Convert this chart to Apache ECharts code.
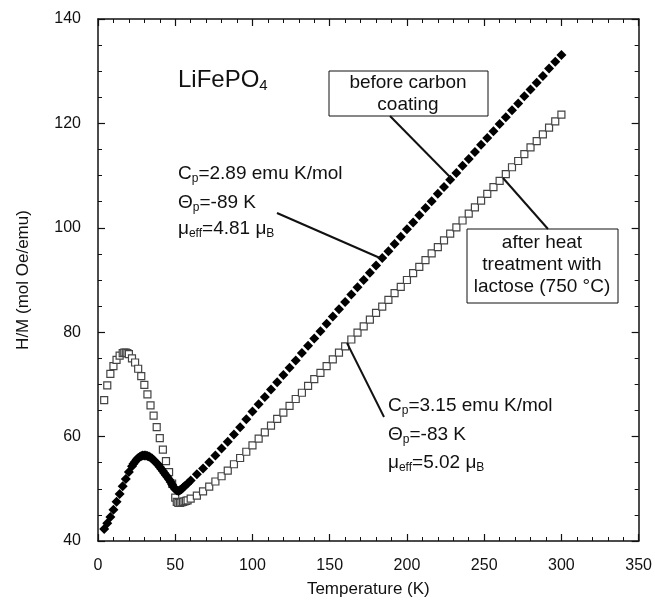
<!DOCTYPE html>
<html>
<head>
<meta charset="utf-8">
<script src="https://cdn.jsdelivr.net/npm/echarts@6/dist/echarts.min.js"></script>
<style>
  html, body { margin: 0; padding: 0; background: #fff; }
  #chart { width: 655px; height: 606px; }
</style>
</head>
<body>
<div id="chart"></div>
<script>
// before carbon coating (filled diamonds)
var beforeT = [4, 6, 8, 10, 12, 14, 16, 18, 20, 22, 23, 24, 25, 26, 27, 28, 29, 30, 31, 32,
  33, 34, 35, 36, 37, 38, 39, 40, 41, 42, 43, 44, 45, 46, 47, 48, 49, 50, 51, 52,
  53, 54, 55, 56, 58, 60, 64, 68, 72, 76, 80, 84, 88, 92, 96, 100, 104, 108, 112, 116,
  120, 124, 128, 132, 136, 140, 144, 148, 152, 156, 160, 164, 168, 172, 176, 180, 184, 188, 192, 196,
  200, 204, 208, 212, 216, 220, 224, 228, 232, 236, 240, 244, 248, 252, 256, 260, 264, 268, 272, 276,
  280, 284, 288, 292, 296, 300]
var beforeHM = [42.3, 43.4, 44.6, 46.0, 47.5, 49.0, 50.5, 51.9, 53.2, 54.3, 54.8, 55.2, 55.6, 55.9, 56.1, 56.3, 56.4, 56.4, 56.4, 56.3,
  56.2, 56.0, 55.8, 55.5, 55.2, 54.9, 54.6, 54.2, 53.8, 53.4, 53.0, 52.6, 52.2, 51.8, 51.3, 50.8, 50.3, 49.9, 49.7, 49.6,
  49.7, 49.9, 50.2, 50.5, 51.0, 51.6, 52.8, 53.9, 55.1, 56.4, 57.7, 59.0, 60.4, 61.8, 63.3, 64.8, 66.2, 67.6, 69.0, 70.4,
  71.8, 73.2, 74.6, 76.0, 77.4, 78.8, 80.2, 81.6, 83.0, 84.4, 85.8, 87.2, 88.6, 90.0, 91.4, 92.8, 94.2, 95.5, 96.9, 98.3,
  99.7, 101.0, 102.4, 103.8, 105.1, 106.5, 107.8, 109.2, 110.5, 111.9, 113.2, 114.5, 115.9, 117.2, 118.5, 119.9, 121.2, 122.5, 123.8, 125.2,
  126.5, 127.8, 129.1, 130.5, 131.8, 133.1]

// after heat treatment with lactose (open squares)
var afterT = [4, 6, 8, 10, 12, 14, 16, 17, 18, 19, 20, 22, 24, 26, 28, 30, 32, 34, 36, 38,
  40, 42, 44, 46, 48, 50, 51, 52, 53, 54, 55, 56, 57, 58, 60, 64, 68, 72, 76, 80,
  84, 88, 92, 96, 100, 104, 108, 112, 116, 120, 124, 128, 132, 136, 140, 144, 148, 152, 156, 160,
  164, 168, 172, 176, 180, 184, 188, 192, 196, 200, 204, 208, 212, 216, 220, 224, 228, 232, 236, 240,
  244, 248, 252, 256, 260, 264, 268, 272, 276, 280, 284, 288, 292, 296, 300]
var afterHM = [67.0, 69.8, 72.0, 73.5, 74.7, 75.5, 76.0, 76.1, 76.1, 76.0, 75.8, 75.0, 74.2, 73.0, 71.6, 69.9, 68.1, 66.0, 64.0, 61.8,
  59.7, 57.5, 55.3, 53.2, 51.0, 48.3, 47.5, 47.3, 47.3, 47.4, 47.5, 47.6, 47.7, 47.8, 48.1, 48.7, 49.5, 50.4, 51.4, 52.4,
  53.5, 54.7, 55.9, 57.1, 58.3, 59.6, 60.8, 62.1, 63.4, 64.6, 65.9, 67.2, 68.4, 69.7, 71.0, 72.2, 73.5, 74.8, 76.1, 77.3,
  78.6, 79.9, 81.1, 82.4, 83.7, 84.9, 86.2, 87.5, 88.7, 90.0, 91.3, 92.5, 93.8, 95.1, 96.3, 97.6, 98.9, 100.1, 101.4, 102.7,
  103.9, 105.2, 106.5, 107.8, 109.0, 110.3, 111.6, 112.8, 114.1, 115.4, 116.6, 117.9, 119.2, 120.4, 121.7]

var xTitle = 'Temperature (K)'
var yTitle = 'H/M (mol Oe/emu)'

function pairs (xs, ys) {
  var out = []
  for (var i = 0; i < xs.length; i++) out.push([xs[i], ys[i]])
  return out
}

var FONT = 'Liberation Sans, Arial, sans-serif'
var sub = { fontSize: 12, fontFamily: FONT, lineHeight: 12, verticalAlign: 'bottom', fill: '#111' }

// axis pieces shared by the four sides of the frame
function frameAxis (extra) {
  var base = {
    type: 'value',
    axisLine: { show: true, onZero: false, lineStyle: { color: '#111', width: 1.5 } },
    axisTick: { show: true, inside: true, length: 7, lineStyle: { color: '#111', width: 1.2 } },
    splitLine: { show: false }
  }
  return Object.assign(base, extra)
}

function label (x, y, text, size, align) {
  return {
    type: 'text',
    x: x,
    y: y,
    z: 10,
    style: {
      text: text,
      fontSize: size,
      fontFamily: FONT,
      fill: '#111',
      align: align || 'left',
      verticalAlign: 'middle',
      lineHeight: size + 3,
      rich: { s: sub, s4: { fontSize: 15, fontFamily: FONT, lineHeight: 15, verticalAlign: 'bottom', fill: '#111' } }
    }
  }
}

function lead (x1, y1, x2, y2) {
  return { type: 'line', z: 10, shape: { x1: x1, y1: y1, x2: x2, y2: y2 }, style: { stroke: '#111', lineWidth: 2 } }
}

var chart = echarts.init(document.getElementById('chart'))

var minorX = { show: true, splitNumber: 5, length: 4, lineStyle: { color: '#111', width: 1 } }
var minorY = { show: true, splitNumber: 4, length: 4, lineStyle: { color: '#111', width: 1 } }

var option = {
  animation: false,
  backgroundColor: '#fff',
  grid: { left: 98, right: 15, top: 19, bottom: 65 },
  xAxis: [
    frameAxis({
      position: 'bottom', min: 0, max: 350, interval: 50, minorTick: minorX,
      axisLabel: { margin: 17, fontSize: 16, fontFamily: FONT, color: '#111' },
      name: xTitle, nameLocation: 'middle', nameGap: 40,
      nameTextStyle: { fontSize: 17, fontFamily: FONT, color: '#111' }
    }),
    frameAxis({
      position: 'top', min: 0, max: 350, interval: 50, minorTick: minorX,
      axisLabel: { show: false }
    })
  ],
  yAxis: [
    frameAxis({
      position: 'left', min: 40, max: 140, interval: 20, minorTick: minorY,
      axisLabel: { margin: 17, fontSize: 16, fontFamily: FONT, color: '#111' },
      name: yTitle, nameLocation: 'middle', nameGap: 66,
      nameTextStyle: { fontSize: 17, fontFamily: FONT, color: '#111' }
    }),
    frameAxis({
      position: 'right', min: 40, max: 140, interval: 20, minorTick: minorY,
      axisLabel: { show: false }
    })
  ],
  series: [
    {
      name: 'after heat treatment with lactose (750 °C)',
      type: 'scatter',
      symbol: 'rect',
      symbolSize: 7,
      itemStyle: { color: '#fff', borderColor: '#444', borderWidth: 1.2, opacity: 1 },
      data: pairs(afterT, afterHM)
    },
    {
      name: 'before carbon coating',
      type: 'scatter',
      symbol: 'diamond',
      symbolSize: 10,
      itemStyle: { color: '#000', opacity: 1 },
      data: pairs(beforeT, beforeHM)
    }
  ],
  graphic: [
    label(178, 80, 'LiFePO{s4|4}', 24),
    label(178, 174, 'C{s|p}=2.89 emu K/mol', 19),
    label(178, 203, 'Θ{s|p}=-89 K', 19),
    label(178, 229, 'μ{s|eff}=4.81 μ{s|B}', 19),
    label(388, 406, 'C{s|p}=3.15 emu K/mol', 19),
    label(388, 435, 'Θ{s|p}=-83 K', 19),
    label(388, 463, 'μ{s|eff}=5.02 μ{s|B}', 19),
    lead(277, 213, 380, 258),
    lead(390, 116, 451, 178),
    lead(548, 229, 503, 178),
    lead(384, 417, 347, 343),
    { type: 'rect', z: 9, shape: { x: 329, y: 71, width: 159, height: 45 }, style: { fill: '#fff', stroke: '#111', lineWidth: 1 } },
    label(408, 94, 'before carbon\ncoating', 19, 'center'),
    { type: 'rect', z: 9, shape: { x: 467, y: 229, width: 151, height: 74 }, style: { fill: '#fff', stroke: '#111', lineWidth: 1 } },
    label(542, 265, 'after heat\ntreatment with\nlactose (750 °C)', 19, 'center')
  ]
}

chart.setOption(option)
</script>
</body>
</html>
